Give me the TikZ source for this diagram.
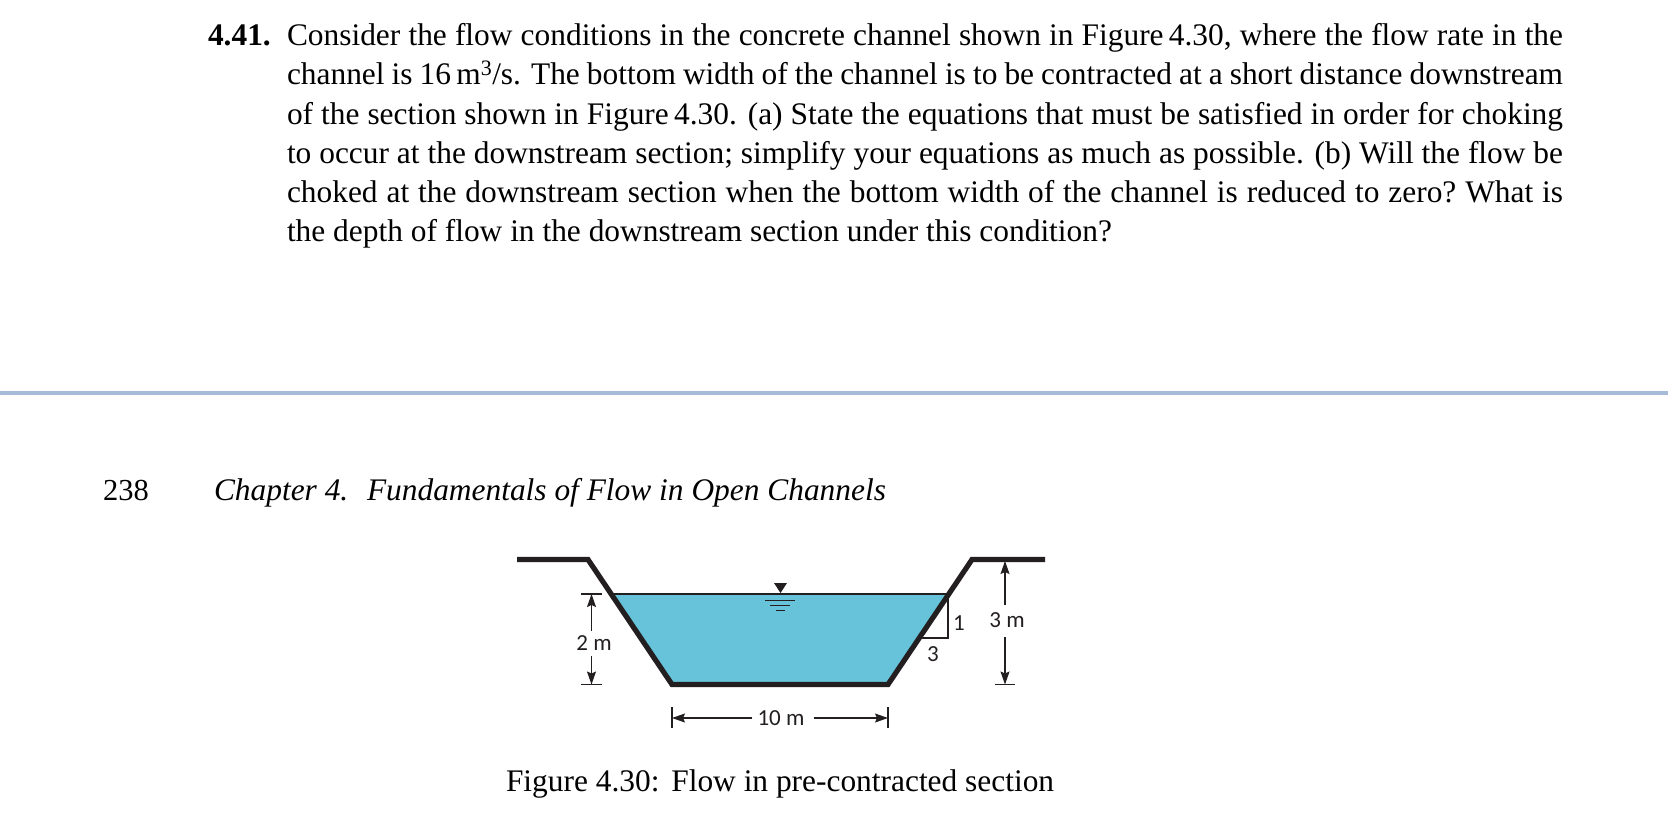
\documentclass[tikz,border=0pt]{standalone}
\usepackage{fontspec}
\setmainfont{Liberation Serif}
\newfontfamily\lblfont{Carlito}
\usetikzlibrary{arrows.meta}
\definecolor{ink}{HTML}{231F20}
\definecolor{waterfill}{HTML}{66C3D9}
\definecolor{rulecol}{HTML}{A5BBD8}
\newcommand{\fitline}[1]{\hbox to 1276pt{#1}}
\tikzset{
  x=1pt,y=-1pt,
  bodytext/.style={anchor=base west,inner sep=0pt,outer sep=0pt,font=\fontsize{31.4}{36}\selectfont,text=black},
  dimlabel/.style={inner sep=0pt,font=\lblfont\fontsize{23}{26}\selectfont,text=ink},
  bank/.style={draw=ink,line width=5.2pt,line join=miter},
  surface/.style={draw=ink,line width=2.2pt},
  thinline/.style={draw=ink,line width=1.1pt},
  dimarrow/.style={draw=ink,line width=1.1pt,-{Stealth[length=13pt,width=9pt,inset=2pt]}}
}
\begin{document}
\begin{tikzpicture}
\useasboundingbox (0,0) rectangle (1668,825);
% problem text
\node[bodytext,font=\fontsize{31.4}{36}\selectfont\bfseries] (num) at (208,45) {4.41.};
\node[bodytext] (l1) at (287,45) {\fitline{Consider the flow conditions in the concrete channel shown in Figure\,4.30, where the flow rate in the}};
\node[bodytext] (l2) at (287,84.4) {\fitline{channel is 16\,m\textsuperscript{3}/s.\ \hskip 3pt The bottom width of the channel is to be contracted at a short distance downstream}};
\node[bodytext] (l3) at (287,124.4) {\fitline{of the section shown in Figure\,4.30. (a) State the equations that must be satisfied in order for choking}};
\node[bodytext] (l4) at (287,163.6) {\fitline{to occur at the downstream section; simplify your equations as much as possible. (b) Will the flow be}};
\node[bodytext] (l5) at (287,202.8) {\fitline{choked at the downstream section when the bottom width of the channel is reduced to zero?\ What is}};
\node[bodytext] (l6) at (287,241.8) {the depth of flow in the downstream section under this condition?};
% page rule
\coordinate (ruleL) at (0,393);
\coordinate (ruleR) at (1668,393);
\draw[draw=rulecol,line width=3.5pt] (ruleL) -- (ruleR);
% header
\node[bodytext,font=\fontsize{30.5}{36}\selectfont] (page) at (103,500) {238};
\node[bodytext,font=\fontsize{31.4}{36}\selectfont\itshape] (chap) at (214,500) {Chapter 4.\ \ \hskip 3pt Fundamentals of Flow in Open Channels};
% channel geometry
\coordinate (bankLo) at (517,559.5);
\coordinate (bankLi) at (588,559.5);
\coordinate (botL) at (672,684.5);
\coordinate (botR) at (888,684.5);
\coordinate (bankRi) at (972,559.5);
\coordinate (bankRo) at (1045,559.5);
\coordinate (wsL) at (613,594);
\coordinate (wsR) at (947,594);
\fill[waterfill] (wsL) -- (wsR) -- (botR) -- (botL) -- cycle;
\draw[surface] (wsL) -- (wsR);
\draw[bank] (bankLo) -- (bankLi) -- (botL) -- (botR) -- (bankRi) -- (bankRo);
% water-surface symbol
\coordinate (tA) at (774,583);
\coordinate (tB) at (787,583);
\coordinate (tC) at (780.5,593);
\fill[ink] (tA) -- (tB) -- (tC) -- cycle;
\coordinate (w1a) at (765,600.5); \coordinate (w1b) at (795,600.5);
\coordinate (w2a) at (770,605.5); \coordinate (w2b) at (790,605.5);
\coordinate (w3a) at (776,610.5); \coordinate (w3b) at (785,610.5);
\draw[thinline,line width=1.3pt] (w1a) -- (w1b);
\draw[thinline,line width=1.3pt] (w2a) -- (w2b);
\draw[thinline,line width=1.3pt] (w3a) -- (w3b);
% slope triangle
\coordinate (s1) at (948,596);
\coordinate (s2) at (948,638);
\coordinate (s3) at (921,638);
\draw[thinline] (s1) -- (s2) -- (s3);
\node[dimlabel] (one) at (959,623.5) {1};
\node[dimlabel] (three) at (933,654) {3};
% 2 m
\coordinate (t2aL) at (581,594); \coordinate (t2aR) at (602,594);
\coordinate (t2bL) at (581,684.5); \coordinate (t2bR) at (602,684.5);
\coordinate (a2t) at (591.5,594); \coordinate (a2b) at (591.5,684.5);
\draw[thinline] (t2aL) -- (t2aR);
\draw[thinline] (t2bL) -- (t2bR);
\node[dimlabel] (two) at (594,642.7) {2 m};
\draw[dimarrow] (two.north -| a2t) ++(0,-4) -- (a2t);
\draw[dimarrow] (two.south -| a2b) ++(0,6) -- (a2b);
% 3 m
\coordinate (a3t) at (1005,561); \coordinate (a3b) at (1005,684.5);
\coordinate (t3L) at (995,684.5); \coordinate (t3R) at (1015,684.5);
\draw[thinline] (t3L) -- (t3R);
\node[dimlabel] (threem) at (1007,620) {3 m};
\draw[dimarrow] (threem.north -| a3t) ++(0,-7) -- (a3t);
\draw[dimarrow] (threem.south -| a3b) ++(0,9) -- (a3b);
% 10 m
\coordinate (a10l) at (672,718); \coordinate (a10r) at (888,718);
\coordinate (t10la) at (672,707); \coordinate (t10lb) at (672,728);
\coordinate (t10ra) at (888,707); \coordinate (t10rb) at (888,728);
\draw[thinline] (t10la) -- (t10lb);
\draw[thinline] (t10ra) -- (t10rb);
\node[dimlabel] (ten) at (781,718) {10 m};
\draw[dimarrow] (ten.west) ++(-5,0) -- (a10l);
\draw[dimarrow] (ten.east) ++(9,0) -- (a10r);
% caption
\node[bodytext] (cap) at (506,791) {Figure 4.30:\ \hskip 4pt Flow in pre-contracted section};
\end{tikzpicture}
\end{document}
